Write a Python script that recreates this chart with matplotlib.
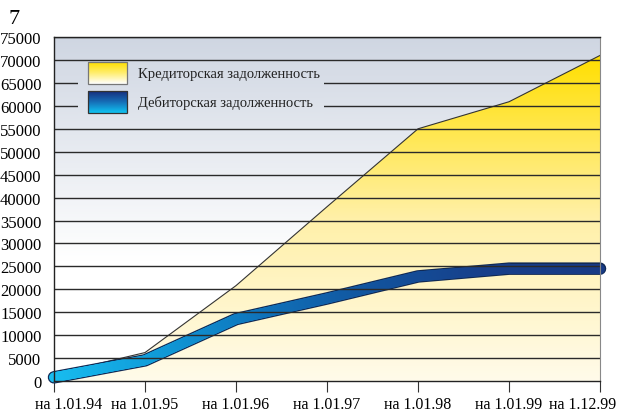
import numpy as np
import matplotlib
matplotlib.use("Agg")
import matplotlib.pyplot as plt
from matplotlib.collections import LineCollection
from matplotlib.colors import LinearSegmentedColormap
from matplotlib.patches import Rectangle
from matplotlib.transforms import ScaledTranslation

plt.rcParams['font.family'] = ['Liberation Serif', 'DejaVu Serif']

dates = ["на 1.01.94", "на 1.01.95", "на 1.01.96", "на 1.01.97",
         "на 1.01.98", "на 1.01.99", "на 1.12.99"]
kredit = [1500, 6200, 20800, 38000, 55000, 60900, 71000]
debit = [800, 4500, 13500, 18000, 22800, 24500, 24500]
yticks = list(range(0, 75001, 5000))
label_kredit = "Кредиторская задолженность"
label_debit = "Дебиторская задолженность"

x = np.arange(len(dates))
xmax = len(dates) - 1
ymax = 75000

fig = plt.figure(figsize=(6.17, 4.14), dpi=100)
ax = fig.add_axes([0.0875, 0.0773, 0.885, 0.8307])
ax.set_xlim(0, xmax)
ax.set_ylim(0, ymax)

# background gradient: grey-blue at top to white at bottom
bg = LinearSegmentedColormap.from_list("bg", [(0, "#ffffff"), (0.35, "#ffffff"), (1, "#cfd6e2")])
ax.imshow(np.linspace(0, 1, 256).reshape(-1, 1), cmap=bg, origin="lower", aspect="auto",
          extent=[0, xmax, 0, ymax], vmin=0, vmax=1, zorder=0)

# yellow area with vertical gradient
poly = ax.fill_between(x, kredit, 0, color="none", zorder=1)
yel = LinearSegmentedColormap.from_list("yel", ["#fffbea", "#fff0a8", "#ffdf00"])
im = ax.imshow(np.linspace(0, 1, 256).reshape(-1, 1), cmap=yel, origin="lower", aspect="auto",
               extent=[0, xmax, 0, max(kredit)], zorder=1)
im.set_clip_path(poly.get_paths()[0], transform=ax.transData)
ax.plot(x, kredit, color="#333333", lw=0.8, zorder=2)

# debit line: dark outline + colour gradient along x
ax.plot(x, debit, color="#112a55", lw=9, solid_capstyle="round", solid_joinstyle="round",
        zorder=3, clip_on=False)
xs = np.linspace(0, xmax, 400)
ys = np.interp(xs, x, debit)
pts = np.column_stack([xs, ys]).reshape(-1, 1, 2)
segs = np.concatenate([pts[:-1], pts[1:]], axis=1)
blue = LinearSegmentedColormap.from_list("blue", ["#18bdf0", "#109ad8", "#0f70b8", "#12529c", "#173f8a", "#173a85"])
lc = LineCollection(segs, cmap=blue, linewidths=7.2, capstyle="round", zorder=4, clip_on=False)
lc.set_array(xs[:-1] / xs.max())
ax.add_collection(lc)

# grid lines drawn over everything
for v in yticks[1:]:
    ax.axhline(v, color="#2a2a2a", lw=1.0, zorder=5)

# legend area, same background gradient so it hides the grid lines
lx0, lx1 = 0.044 * xmax, 0.493 * xmax
ly0, ly1 = 56500, 69000
ax.imshow(np.linspace(ly0 / ymax, ly1 / ymax, 64).reshape(-1, 1), cmap=bg, origin="lower",
          aspect="auto", extent=[lx0, lx1, ly0, ly1], vmin=0, vmax=1, zorder=6)
ax.set_xlim(0, xmax)
ax.set_ylim(0, ymax)

def grad_box(x0, y0, w, h, colors, edge):
    cm = LinearSegmentedColormap.from_list("g", colors)
    ax.imshow(np.linspace(0, 1, 64).reshape(-1, 1), cmap=cm, origin="lower", aspect="auto",
              extent=[x0, x0 + w, y0, y0 + h], transform=ax.transAxes, zorder=7)
    ax.add_patch(Rectangle((x0, y0), w, h, transform=ax.transAxes, facecolor="none",
                           edgecolor=edge, lw=0.9, zorder=8))

grad_box(0.0625, 0.865, 0.072, 0.062, ["#ffffff", "#ffee70", "#ffdf00"], "#777777")
grad_box(0.0625, 0.78, 0.072, 0.062, ["#10c4f2", "#1670b8", "#162e7e"], "#333333")
ax.text(0.154, 0.895, label_kredit, transform=ax.transAxes, fontsize=10.5,
        va="center", ha="left", color="#222222", zorder=9)
ax.text(0.154, 0.81, label_debit, transform=ax.transAxes, fontsize=10.5,
        va="center", ha="left", color="#222222", zorder=9)

ax.set_xticks(x)
ax.set_xticklabels(dates, fontsize=11.5)
ax.set_yticks(yticks)
ax.set_yticklabels([str(v) for v in yticks], fontsize=12)
ax.tick_params(axis="x", direction="out", length=8, width=0.8, color="#333333", pad=3)
ax.tick_params(axis="y", length=0, pad=9)

# first and last date labels are pushed inwards
labels = ax.get_xticklabels()
labels[0].set_transform(labels[0].get_transform() + ScaledTranslation(15 / 100, 0, fig.dpi_scale_trans))
labels[-1].set_transform(labels[-1].get_transform() + ScaledTranslation(-17 / 100, 0, fig.dpi_scale_trans))

for s in ["top", "bottom", "left"]:
    ax.spines[s].set_color("#222222")
    ax.spines[s].set_linewidth(1.0)
ax.spines["right"].set_color("#888888")
for s in ax.spines.values():
    s.set_zorder(6)

fig.text(0.013, 0.975, "7", fontsize=16, va="top", ha="left")

fig.savefig("out.png", dpi=100)
